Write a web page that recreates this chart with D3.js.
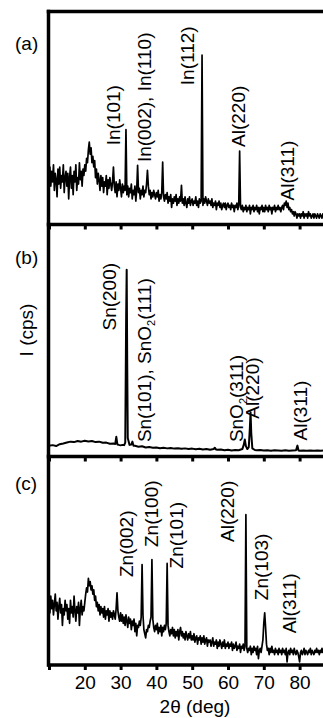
<!DOCTYPE html>
<html>
<head>
<meta charset="utf-8">
<script src="https://cdn.jsdelivr.net/npm/d3@7"></script>
<style>
  body { margin: 0; background: #fff; }
  svg { display: block; font-family: Arial, 'Liberation Sans', sans-serif; }
</style>
</head>
<body>
<div id="display"></div>
<script>
// 2theta ticks (bottom panel only carries labels)
const thetaTicks = [10, 20, 30, 40, 50, 60, 70, 80];
const thetaLabels = ['', '20', '30', '40', '50', '60', '70', '80'];

// scan grid of the noisy patterns: 10 - 88 deg, 0.25 deg step
const thetaGrid = d3.range(10, 88.001, 0.25);

// (a) In on Al, one value per grid step (arbitrary units, 0-100 of panel height)
const countsA = [
  22, 27, 18, 25, 20, 28, 16, 24, 21, 13, 26, 19, 27, 17, 23, 20, 28, 15, 22, 25,
  18, 24, 12, 22, 27, 17, 23, 14, 25, 20, 28, 16, 22, 19, 29, 21, 25, 18, 26, 23,
  28, 25, 31, 29, 35, 38.7, 33, 36, 29, 32, 27, 30, 22, 26, 19, 24, 21, 16, 23, 18,
  22, 15, 20, 18, 23, 14, 21, 17, 22, 19, 16, 20, 27, 18, 15, 20, 13, 19, 16, 21,
  17, 13, 19, 15, 18, 16, 44.6, 14, 18, 13, 17, 15, 19, 12, 16, 14, 18, 11, 16, 27.8,
  15, 17, 12, 16, 14, 18, 13, 16, 15, 19, 25.4, 18, 14, 16, 12, 15, 13, 16, 14, 12,
  15, 13, 16, 11, 14, 12, 15, 29.3, 13, 11, 14, 12, 15, 10, 13, 11, 14, 8, 12, 10,
  13, 11, 14, 9, 12, 10, 13, 11, 18.4, 10, 12, 9, 13, 10, 8, 12, 10, 13, 9, 11,
  12, 9, 11, 10, 13, 9, 11, 8, 12, 10, 11, 79.5, 9, 12, 10, 13, 11, 9, 12, 10,
  11, 9, 12, 8, 10, 9, 11, 7, 10, 9, 11, 8, 10, 7, 9, 10, 8, 10, 7, 9,
  10, 8, 9, 7, 10, 8, 9, 6, 9, 8, 10, 7, 9, 34.5, 8, 7, 9, 6, 8, 7,
  9, 6, 8, 7, 9, 5, 8, 7, 9, 6, 8, 7, 9, 6, 8, 5, 8, 7, 9, 6,
  8, 6, 9, 7, 8, 6, 9, 7, 8, 5, 8, 7, 9, 6, 8, 7, 9, 7, 8, 6,
  8, 9, 7, 10, 9, 11, 8, 10, 7, 8, 6, 7, 5, 6, 4, 6, 5, 3, 5, 4,
  5, 3, 5, 4, 6, 3, 5, 4, 5, 3, 6, 4, 5, 3, 4, 5, 3, 5, 4, 3,
  5, 4, 3, 5, 4, 3, 5, 4, 3, 5, 4, 3, 4
];

// (b) Sn on Al - [2theta, I], smooth scan
const seriesB = [
  [10, 4.6], [11, 4.9], [12, 4.5], [13, 5.3], [14, 5.6], [15, 6.0], [16, 6.4], [17, 6.2], [18, 6.7], [19, 6.4],
  [20, 6.8], [21, 6.5], [22, 6.7], [23, 6.2], [24, 6.4], [25, 5.9], [26, 6.0], [27, 5.5], [28, 5.6], [28.5, 5.4],
  [28.8, 8.5], [29.1, 5.2], [29.5, 5.0], [30, 4.8], [30.5, 5.0], [31, 4.9], [31.3, 6], [31.55, 60], [31.7, 80.5],
  [31.85, 40], [32.0, 8], [32.5, 5.0], [33.0, 5.2], [33.3, 6.4], [33.6, 4.6], [34, 4.6], [35, 4.2], [36, 4.4],
  [37, 3.9], [38, 4.1], [39, 3.8], [40, 3.9], [41, 3.6], [42, 3.8], [43, 3.5], [44, 3.7], [45, 3.4], [46, 3.6],
  [47, 3.3], [48, 3.5], [49, 3.2], [50, 3.4], [51, 3.1], [52, 3.3], [53, 3.0], [54, 3.2], [55, 2.9], [56, 3.2],
  [56.3, 3.8], [56.7, 3.0], [57, 2.9], [58, 3.0], [59, 2.7], [60, 2.9], [61, 2.6], [62, 2.8], [63, 2.7], [64, 3.2],
  [64.4, 5.0], [64.7, 7.3], [65.0, 4.5], [65.4, 3.2], [65.8, 4.0], [66.1, 12], [66.3, 19.1], [66.5, 10], [66.8, 3.5],
  [67.5, 2.8], [68, 2.7], [69, 2.8], [70, 2.6], [71, 2.7], [72, 2.5], [73, 2.7], [74, 2.6], [75, 2.5], [76, 2.7],
  [77, 2.5], [78, 2.6], [79, 2.7], [79.4, 4.7], [79.7, 2.6], [80, 2.5], [81, 2.6], [82, 2.5], [83, 2.6], [84, 2.5],
  [85, 2.6], [86, 2.5], [87, 2.6], [88, 2.5]
];

// (c) Zn on Al, one value per grid step
const countsC = [
  30, 25, 33, 27, 31, 24, 29, 34, 26, 30, 22, 28, 32, 25, 29, 19, 27, 24, 31, 26,
  29, 22, 27, 20, 31, 25, 28, 23, 33, 26, 21, 28, 25, 30, 19, 27, 31, 24, 28, 26,
  30, 34, 37, 35, 41.5, 38, 40, 36, 38, 34, 36, 31, 33, 28, 30, 26, 29, 24, 28, 25,
  27, 23, 28, 22, 26, 24, 27, 21, 26, 23, 25, 22, 26, 24, 22, 27, 34.6, 26, 23, 21,
  25, 21, 24, 20, 23, 19, 24, 21, 18, 23, 20, 22, 17, 21, 19, 22, 16, 20, 14, 19,
  18, 21, 19, 23, 48.2, 24, 17, 15, 13, 17, 16, 19, 18, 21, 23, 50.6, 22, 18, 16, 19,
  17, 20, 15, 18, 16, 19, 14, 18, 16, 19, 17, 20, 48.7, 19, 16, 14, 17, 15, 18, 14,
  17, 13, 16, 14, 17, 12, 16, 18, 14, 16, 13, 15, 12, 16, 14, 12, 15, 13, 16, 12,
  14, 12, 15, 11, 13, 14, 10, 13, 12, 14, 10, 13, 11, 14, 10, 12, 13, 9, 12, 11,
  12, 9, 11, 13, 9, 11, 10, 12, 8, 11, 9, 12, 10, 8, 11, 9, 12, 8, 10, 9,
  11, 8, 10, 9, 11, 7, 10, 8, 9, 11, 7, 9, 8, 10, 6, 9, 8, 10, 7, 9,
  72.1, 8, 6, 8, 7, 9, 5, 8, 6, 9, 7, 8, 5, 9, 3, 7, 8, 6, 9, 12,
  20, 25, 18, 10, 7, 8, 5, 8, 6, 9, 6, 7, 5, 8, 6, 7, 5, 8, 6, 7,
  5, 8, 6, 7, 5, 8, 1.5, 6, 7, 5, 8, 6, 7, 5, 8, 6, 5, 7, 6, 4,
  1.5, 6, 7, 5, 6, 8, 5, 7, 6, 5, 7, 6, 8, 5, 7, 6, 5, 7, 6, 8,
  6, 7, 5, 7, 6, 8, 6, 7, 5, 7, 6, 7, 6
];

// peak assignments: text, 2theta and intensity where the rotated label starts
const labelsA = [
  {text: 'In(101)', theta: 29.8, level: 37.2},
  {text: 'In(002), In(110)', theta: 38.5, level: 29.3},
  {text: 'In(112)', theta: 50.6, level: 65.4},
  {text: 'Al(220)', theta: 64.8, level: 36.4},
  {text: 'Al(311)', theta: 78.3, level: 11.3}
];
const labelsB = [
  {text: 'Sn(200)', theta: 28.7, level: 54.3},
  {text: 'Sn(101), SnO|2|(111)', theta: 38.5, level: 6.2},
  {text: 'SnO|2|(311)', theta: 64.1, level: 6.2},
  {text: 'Al(220)', theta: 68.7, level: 16.3},
  {text: 'Al(311)', theta: 82.2, level: 6.9}
];
const labelsC = [
  {text: 'Zn(002)', theta: 33.5, level: 42.2},
  {text: 'Zn(100)', theta: 40.4, level: 56.6},
  {text: 'Zn(101)', theta: 47.3, level: 46.3},
  {text: 'Al(220)', theta: 61.8, level: 59.0},
  {text: 'Zn(103)', theta: 71.1, level: 31.1},
  {text: 'Al(311)', theta: 79.0, level: 15.2}
];

const width = 323;
const height = 718;
const x0 = 49;
const fontSize = 19;

const svg = d3.select('#display').append('svg')
    .attr('width', width)
    .attr('height', height);

const x = d3.scaleLinear().domain([10, 90]).range([x0, x0 + 80 * 3.58]);

const panels = [
  {tag: '(a)', data: d3.zip(thetaGrid, countsA), labels: labelsA,
    top: 11.5, bottom: 224.5, lw: 1.7, tagY: 49.5},
  {tag: '(b)', data: seriesB, labels: labelsB,
    top: 224.5, bottom: 456.5, lw: 2, tagY: 263.5},
  {tag: '(c)', data: d3.zip(thetaGrid, countsC), labels: labelsC,
    top: 456.5, bottom: 665, lw: 1.7, tagY: 489.5}
];

panels.forEach((p, i) => {
  const y = d3.scaleLinear().domain([0, 100]).range([p.bottom, p.top]);
  const g = svg.append('g');

  const line = d3.line()
      .x((d) => x(d[0]))
      .y((d) => y(d[1]));

  g.append('path')
      .datum(p.data)
      .attr('fill', 'none')
      .attr('stroke', '#000')
      .attr('stroke-width', p.lw)
      .attr('stroke-linejoin', 'round')
      .attr('d', line);

  // bottom axis with outward ticks
  const last = i == panels.length - 1;
  const ax = g.append('g')
      .attr('transform', 'translate(0,' + p.bottom + ')')
      .call(d3.axisBottom(x).tickValues(thetaTicks).tickSize(5).tickSizeOuter(0)
          .tickPadding(6)
          .tickFormat((d, k) => last ? thetaLabels[k] : ''));
  ax.select('.domain').attr('stroke-width', 3.5).attr('d', 'M' + (x0 - 1.5) + ',0H' + width);
  ax.selectAll('.tick line').attr('stroke-width', 3);
  ax.selectAll('.tick text')
      .attr('font-size', fontSize)
      .attr('font-family', 'Arial, Liberation Sans, sans-serif')
      .attr('fill', '#000');

  // left spine
  g.append('line')
      .attr('x1', x0 - 0.5).attr('x2', x0 - 0.5)
      .attr('y1', p.top - 1.75).attr('y2', p.bottom + 1.75)
      .attr('stroke', '#000').attr('stroke-width', 3.5);

  if (i == 0) {
    g.append('line')
        .attr('x1', x0 - 2.25).attr('x2', width)
        .attr('y1', p.top).attr('y2', p.top)
        .attr('stroke', '#000').attr('stroke-width', 3.5);
  }

  g.append('text')
      .attr('x', 15).attr('y', p.tagY)
      .attr('font-size', fontSize)
      .text(p.tag);

  // rotated peak labels, '|2|' marks a subscript
  p.labels.forEach((l) => {
    const t = g.append('text')
        .attr('font-size', fontSize)
        .attr('transform', 'translate(' + x(l.theta) + ',' + y(l.level) + ') rotate(-90)');
    l.text.split('|').forEach((part, k) => {
      if (k % 2 == 1) {
        t.append('tspan').attr('font-size', 11).attr('dy', 4).text(part);
      } else {
        t.append('tspan').attr('dy', k > 0 ? -4 : 0).text(part);
      }
    });
  });
});

svg.append('text')
    .attr('transform', 'translate(33,330) rotate(-90)')
    .attr('text-anchor', 'middle')
    .attr('font-size', fontSize)
    .text('I (cps)');

svg.append('text')
    .attr('x', 195).attr('y', 713)
    .attr('text-anchor', 'middle')
    .attr('font-size', fontSize)
    .text('2θ (deg)');
</script>
</body>
</html>
